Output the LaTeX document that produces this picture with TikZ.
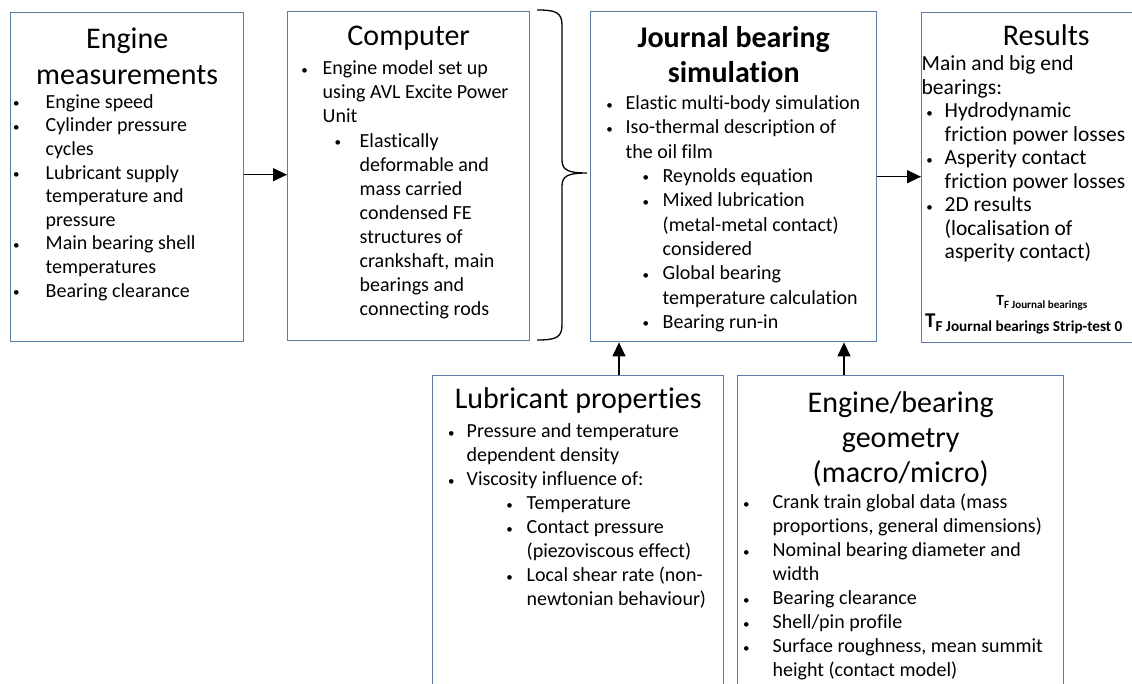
\documentclass[tikz,border=0pt]{standalone}
\usepackage{fontspec}
\setmainfont{Carlito}[Ligatures=NoCommon]
\usetikzlibrary{positioning, arrows.meta}

\definecolor{boxblue}{HTML}{5A7CA8}

% small bullet dot
\newcommand{\dotbul}{\raisebox{0.6pt}{\fontsize{13}{13}\selectfont\textbullet}}
% bullet line: bullet offset, text offset, text
\newcommand{\bul}[3]{\par\noindent\hangindent=#2\hangafter=1\hspace*{#1}\makebox[\dimexpr#2-#1\relax][l]{\dotbul}#3}
% panel title: first baseline, line skip, text
\newcommand{\ptitle}[3]{\par{\centering\fontsize{30}{#2}\selectfont\rule{0pt}{#1}#3\par}}

\tikzset{
  panel/.style={draw=boxblue, line width=1.4pt, inner sep=0pt, anchor=north west},
  flowarrow/.style={-{Triangle[length=14pt,width=13pt]}, line width=1.3pt},
}

\begin{document}
\begin{tikzpicture}[x=1pt, y=-1pt]
  \useasboundingbox (0,0) rectangle (1132,684);
  \hyphenpenalty=10000 \exhyphenpenalty=10000

  % top row
  \node[panel] (meas) at (10,12) {\begin{minipage}[t][329pt][t]{233pt}\raggedright
    \ptitle{36pt}{36pt}{Engine\\measurements}
    \fontsize{20}{23.6}\selectfont
    \bul{2.5pt}{35pt}{Engine speed}
    \bul{2.5pt}{35pt}{Cylinder pressure\newline cycles}
    \bul{2.5pt}{35pt}{Lubricant supply\newline temperature and\newline pressure}
    \bul{2.5pt}{35pt}{Main bearing shell\newline temperatures}
    \bul{2.5pt}{35pt}{Bearing clearance}
  \end{minipage}};

  \node[panel] (comp) at (287,11) {\begin{minipage}[t][329pt][t]{242pt}\raggedright
    \ptitle{34pt}{36pt}{Computer}
    \fontsize{20}{24.1}\selectfont\vspace{5pt}
    \bul{13.7pt}{35pt}{Engine model set up\newline using AVL Excite Power\newline Unit}
    \bul{47pt}{72pt}{Elastically\newline deformable and\newline mass carried\newline condensed FE\newline structures of\newline crankshaft, main\newline bearings and\newline connecting rods}
  \end{minipage}};

  \node[panel] (journ) at (590,11) {\begin{minipage}[t][330pt][t]{286pt}\raggedright
    \ptitle{36pt}{35pt}{\bfseries Journal bearing\\simulation}
    \fontsize{20}{24.3}\selectfont\vspace{2.7pt}
    \bul{15.7pt}{35pt}{Elastic multi-body simulation}
    \bul{15.7pt}{35pt}{Iso-thermal description of\newline the oil film}
    \bul{52pt}{72pt}{Reynolds equation}
    \bul{52pt}{72pt}{Mixed lubrication\newline (metal-metal contact)\newline considered}
    \bul{52pt}{72pt}{Global bearing\newline temperature calculation}
    \bul{52pt}{72pt}{Bearing run-in}
  \end{minipage}};

  \node[panel] (res) at (921,12) {\begin{minipage}[t][330pt][t]{249pt}\raggedright
    \ptitle{33pt}{36pt}{Results}
    \fontsize{21.5}{23.5}\selectfont\vspace{1.5pt}
    \noindent Main and big end\newline bearings:
    \bul{4.7pt}{23pt}{Hydrodynamic\newline friction power losses}
    \bul{4.7pt}{23pt}{Asperity contact\newline friction power losses}
    \bul{4.7pt}{23pt}{2D results\newline (localisation of\newline asperity contact)}
  \end{minipage}};
  \node[anchor=base, inner sep=0pt, font=\bfseries\fontsize{15.5}{16}\selectfont] (tfa) at (1042,306)
    {T\textsubscript{\fontsize{11.1}{12}\selectfont F Journal bearings}};
  \node[anchor=base, inner sep=0pt, font=\bfseries\fontsize{21}{22}\selectfont] (tfb) at (1024,328)
    {T\textsubscript{\fontsize{15.2}{16}\selectfont F Journal bearings Strip-test 0}};

  % brace grouping the computer panel
  \draw[line width=1.3pt] (537,10) .. controls (555,10) and (562,12) .. (562,25) -- (562,160)
    .. controls (562,170) and (568,173) .. (587,173)
    .. controls (568,173) and (562,176) .. (562,186) -- (562,325)
    .. controls (562,338) and (555,340) .. (537,340);

  % bottom row
  \node[panel] (lub) at (432,375) {\begin{minipage}[t][330pt][t]{291pt}\raggedright
    \ptitle{33pt}{36pt}{Lubricant properties}
    \fontsize{20}{24}\selectfont\vspace{5pt}
    \bul{15.3pt}{34pt}{Pressure and temperature\newline dependent density}
    \bul{15.3pt}{34pt}{Viscosity influence of:}
    \bul{73.7pt}{94pt}{Temperature}
    \bul{73.7pt}{94pt}{Contact pressure\newline (piezoviscous effect)}
    \bul{73.7pt}{94pt}{Local shear rate (non-\newline newtonian behaviour)}
  \end{minipage}};

  \node[panel] (geom) at (737,375) {\begin{minipage}[t][330pt][t]{326pt}\raggedright
    \ptitle{37pt}{35pt}{Engine/bearing\\geometry\\(macro/micro)}
    \fontsize{20}{24}\selectfont\vspace{2pt}
    \bul{5.3pt}{35pt}{Crank train global data (mass\newline proportions, general dimensions)}
    \bul{5.3pt}{35pt}{Nominal bearing diameter and\newline width}
    \bul{5.3pt}{35pt}{Bearing clearance}
    \bul{5.3pt}{35pt}{Shell/pin profile}
    \bul{5.3pt}{35pt}{Surface roughness, mean summit\newline height (contact model)}
  \end{minipage}};

  % connectors
  \draw[flowarrow] ([yshift=2.5pt]meas.east) -- ([yshift=2.5pt]meas.east -| comp.west);
  \draw[flowarrow] (journ.east) -- (journ.east -| res.west);
  \draw[flowarrow] ([xshift=187pt]lub.north west) -- ([xshift=187pt]lub.north west |- journ.south);
  \draw[flowarrow] ([xshift=107pt]geom.north west) -- ([xshift=107pt]geom.north west |- journ.south);
\end{tikzpicture}
\end{document}
